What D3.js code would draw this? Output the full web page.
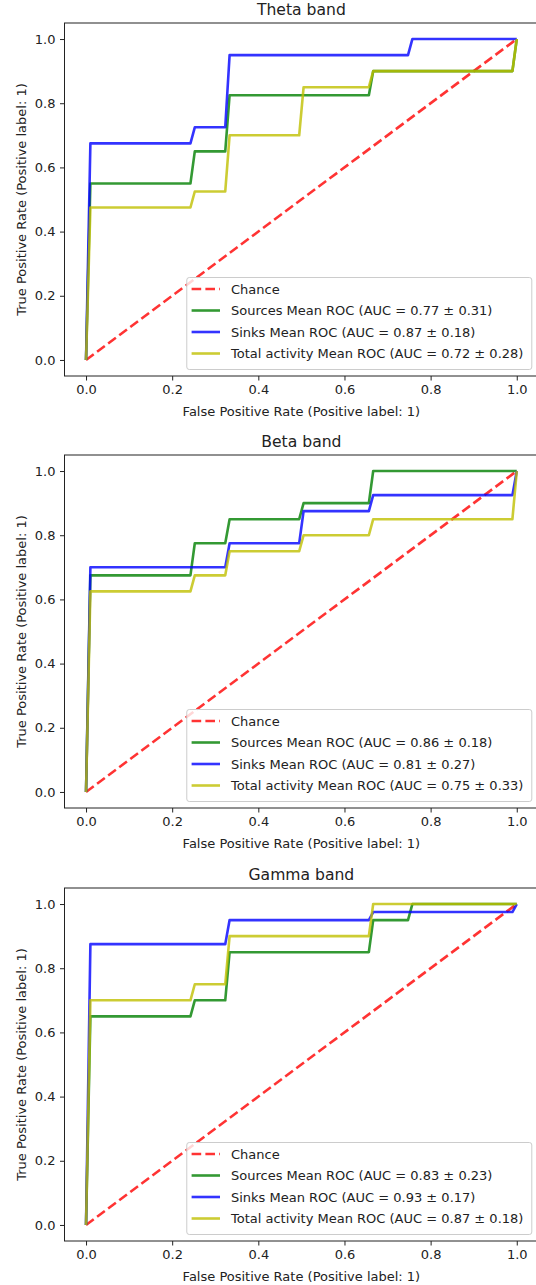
<!DOCTYPE html>
<html>
<head>
<meta charset="utf-8">
<script src="https://cdn.jsdelivr.net/npm/d3@7"></script>
<style>
  body { margin: 0; background: #fff; }
  svg { display: block; font-family: "DejaVu Sans", sans-serif; }
</style>
</head>
<body>
<div id="chart"></div>
<script>
// mean ROC curves, [fpr, tpr] breakpoints
const thetaSources = [[0, 0], [0.0101, 0.55], [0.2424, 0.55], [0.2525, 0.65], [0.3232, 0.65], [0.3333, 0.825], [0.6566, 0.825], [0.6667, 0.9], [0.9899, 0.9], [1, 1]]
const thetaSinks = [[0, 0], [0.0101, 0.675], [0.2424, 0.675], [0.2525, 0.725], [0.3232, 0.725], [0.3333, 0.95], [0.7475, 0.95], [0.7576, 1], [1, 1]]
const thetaTotal = [[0, 0], [0.0101, 0.475], [0.2424, 0.475], [0.2525, 0.525], [0.3232, 0.525], [0.3333, 0.7], [0.4949, 0.7], [0.5051, 0.85], [0.6566, 0.85], [0.6667, 0.9], [0.9899, 0.9], [1, 1]]

const betaSources = [[0, 0], [0.0101, 0.675], [0.2424, 0.675], [0.2525, 0.775], [0.3232, 0.775], [0.3333, 0.85], [0.4949, 0.85], [0.5051, 0.9], [0.6566, 0.9], [0.6667, 1], [1, 1]]
const betaSinks = [[0, 0], [0.0101, 0.7], [0.3232, 0.7], [0.3333, 0.775], [0.4949, 0.775], [0.5051, 0.875], [0.6566, 0.875], [0.6667, 0.925], [0.9899, 0.925], [1, 1]]
const betaTotal = [[0, 0], [0.0101, 0.625], [0.2424, 0.625], [0.2525, 0.675], [0.3232, 0.675], [0.3333, 0.75], [0.4949, 0.75], [0.5051, 0.8], [0.6566, 0.8], [0.6667, 0.85], [0.9899, 0.85], [1, 1]]

const gammaSources = [[0, 0], [0.0101, 0.65], [0.2424, 0.65], [0.2525, 0.7], [0.3232, 0.7], [0.3333, 0.85], [0.6566, 0.85], [0.6667, 0.95], [0.7475, 0.95], [0.7576, 1], [1, 1]]
const gammaSinks = [[0, 0], [0.0101, 0.875], [0.3232, 0.875], [0.3333, 0.95], [0.6566, 0.95], [0.6667, 0.975], [0.9899, 0.975], [1, 1]]
const gammaTotal = [[0, 0], [0.0101, 0.7], [0.2424, 0.7], [0.2525, 0.75], [0.3232, 0.75], [0.3333, 0.9], [0.6566, 0.9], [0.6667, 1], [1, 1]]

const chance = [[0, 0], [1, 1]]

const titles = ['Theta band', 'Beta band', 'Gamma band']
const seriesNames = ['Sources', 'Sinks', 'Total activity']
const aucMeans = [[0.77, 0.87, 0.72], [0.86, 0.81, 0.75], [0.83, 0.93, 0.87]]
const aucStds = [[0.31, 0.18, 0.28], [0.18, 0.27, 0.33], [0.23, 0.17, 0.18]]
const tickValues = [0, 0.2, 0.4, 0.6, 0.8, 1.0]

const panels = [
    [thetaSources, thetaSinks, thetaTotal],
    [betaSources, betaSinks, betaTotal],
    [gammaSources, gammaSinks, gammaTotal]
]
const colors = ['#008000', '#0000ff', '#bfbf00']

const W = 536
const H = 1285
const axLeft = 64.5
const axWidth = 473.8
const axHeight = 353
const axTops = [23, 455, 888]

const svg = d3.select('#chart')
    .append('svg')
    .attr('width', W)
    .attr('height', H)

const x = d3.scaleLinear()
    .domain([-0.05, 1.05])
    .range([0, axWidth])

const y = d3.scaleLinear()
    .domain([-0.05, 1.05])
    .range([axHeight, 0])

const line = d3.line()
    .x(d => x(d[0]))
    .y(d => y(d[1]))

panels.forEach((curves, p) => {
    const g = svg.append('g')
        .attr('transform', `translate(${axLeft}, ${axTops[p]})`)

    // title
    g.append('text')
        .attr('x', axWidth / 2)
        .attr('y', -7.8)
        .attr('text-anchor', 'middle')
        .attr('font-size', '15.6px')
        .attr('fill', '#222')
        .text(titles[p])

    // chance line first, then the three mean curves
    g.append('path')
        .attr('d', line(chance))
        .attr('fill', 'none')
        .attr('stroke', '#ff0000')
        .attr('stroke-opacity', 0.8)
        .attr('stroke-width', 2.6)
        .attr('stroke-dasharray', '9.6,4.2')

    curves.forEach((c, i) => {
        g.append('path')
            .attr('d', line(c))
            .attr('fill', 'none')
            .attr('stroke', colors[i])
            .attr('stroke-opacity', 0.8)
            .attr('stroke-width', 2.6)
            .attr('stroke-linejoin', 'round')
    })

    // axes
    const bottomAxis = d3.axisBottom(x)
        .tickValues(tickValues)
        .tickFormat(d3.format('.1f'))
        .tickSize(4.5)
        .tickPadding(4.5)
    const leftAxis = d3.axisLeft(y)
        .tickValues(tickValues)
        .tickFormat(d3.format('.1f'))
        .tickSize(4.5)
        .tickPadding(4.5)

    const bx = g.append('g')
        .attr('transform', `translate(0, ${axHeight})`)
        .call(bottomAxis)
    const lx = g.append('g').call(leftAxis)

    ;[bx, lx].forEach(a => {
        a.select('.domain').remove()
        a.selectAll('line').attr('stroke', '#222').attr('stroke-width', 1)
        a.selectAll('text')
            .attr('font-family', '"DejaVu Sans", sans-serif')
            .attr('font-size', '13px')
            .attr('fill', '#222')
    })

    // frame
    g.append('rect')
        .attr('x', 0)
        .attr('y', 0)
        .attr('width', axWidth)
        .attr('height', axHeight)
        .attr('fill', 'none')
        .attr('stroke', '#222')
        .attr('stroke-width', 1)

    // axis labels
    g.append('text')
        .attr('x', axWidth / 2)
        .attr('y', axHeight + 39.5)
        .attr('text-anchor', 'middle')
        .attr('font-size', '13px')
        .attr('fill', '#222')
        .text('False Positive Rate (Positive label: 1)')

    g.append('text')
        .attr('transform', `translate(${26.2 - axLeft}, ${axHeight / 2}) rotate(-90)`)
        .attr('text-anchor', 'middle')
        .attr('font-size', '13px')
        .attr('fill', '#222')
        .text('True Positive Rate (Positive label: 1)')

    // legend, lower right
    const labels = ['Chance'].concat(seriesNames.map((s, i) =>
        `${s} Mean ROC (AUC = ${aucMeans[p][i].toFixed(2)} \u00b1 ${aucStds[p][i].toFixed(2)})`))
    const legRight = axWidth - 6.5
    const legBottom = axHeight - 6.5
    const rowGap = 21.5
    const legHeight = 92

    const leg = g.append('g')
    const frame = leg.append('rect')
        .attr('fill', '#fff')
        .attr('fill-opacity', 0.8)
        .attr('stroke', '#cccccc')
        .attr('stroke-width', 1)
        .attr('rx', 2.5)

    const items = leg.selectAll('g.item')
        .data(labels)
        .enter()
        .append('g')
        .attr('class', 'item')

    const texts = items.append('text')
        .attr('font-size', '13px')
        .attr('fill', '#222')
        .attr('dy', '0.35em')
        .text(d => d)

    let maxW = 0
    texts.each(function () { maxW = Math.max(maxW, this.getComputedTextLength()) })
    const legWidth = maxW + 44.2 + 8.4
    const legLeft = legRight - legWidth
    const legTop = legBottom - legHeight

    frame.attr('x', legLeft)
        .attr('y', legTop)
        .attr('width', legWidth)
        .attr('height', legHeight)

    items.attr('transform', (d, i) => `translate(${legLeft}, ${legTop + 11.5 + i * rowGap})`)
    texts.attr('x', 44.2)

    items.append('line')
        .attr('x1', 4.8)
        .attr('x2', 33.2)
        .attr('y1', 0)
        .attr('y2', 0)
        .attr('stroke', (d, i) => i === 0 ? '#ff0000' : colors[i - 1])
        .attr('stroke-opacity', 0.8)
        .attr('stroke-width', 2.6)
        .attr('stroke-dasharray', (d, i) => i === 0 ? '9.6,4.2' : null)
})
</script>
</body>
</html>
